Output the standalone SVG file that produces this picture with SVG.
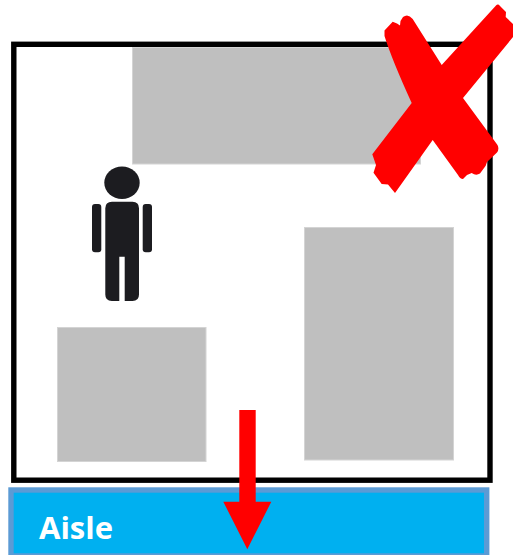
<svg xmlns="http://www.w3.org/2000/svg" width="513" height="555" viewBox="0 0 513 555">
  <style>
    .shelf { fill: #bfbfbf; stroke: #d4d4d4; stroke-width: 1; }
    .red { fill: #ff0000; }
    .person { fill: #1c1c20; }
  </style>
  <rect width="513" height="555" fill="#ffffff"/>
  <g id="room"><rect x="13.8" y="44.3" width="476.2" height="435.9" fill="#ffffff" stroke="#000000" stroke-width="5.4"/></g>
  <g id="shelf-top"><rect class="shelf" x="132.5" y="47.5" width="288" height="116.5"/></g>
  <g id="shelf-left"><rect class="shelf" x="57.5" y="327.5" width="148.5" height="134"/></g>
  <g id="shelf-right"><rect class="shelf" x="304.5" y="227.5" width="149" height="232.5"/></g>
  <g id="aisle">
    <rect x="11" y="490" width="475.7" height="66" fill="#00b0f0" stroke="#5b9bd5" stroke-width="5.4"/>
    <text x="39" y="538.5" font-family="'Open Sans', sans-serif" font-weight="700" font-size="31" fill="#ffffff">Aisle</text>
  </g>
  <g id="person">
    <ellipse class="person" cx="122" cy="182.8" rx="17.7" ry="16.2"/>
    <path class="person" d="M112 201.7H132.5Q139 201.7 139 208.2V294.5Q139 301 132.5 301H124.7V256.7H119.3V301H111.8Q105.3 301 105.3 294.5V208.2Q105.3 201.7 112 201.7Z"/>
    <rect class="person" x="92" y="204" width="9.3" height="48.3" rx="3"/>
    <rect class="person" x="142.7" y="204" width="9.3" height="48.3" rx="3"/>
  </g>
  <g id="cross">
    <path class="red" d="M384.5 30.5L392.7 21.7L397 23.5L400 25.5L400.5 21L403 17Q408 13 412.7 19L441.7 65L496 5.5Q498 3.5 500 6L506 12L505.7 17L513 24V37L463 98L497.5 145Q499.5 149 497 152.5L487 162L485.7 165.7L480 173.5Q476 176 471.7 173L467 175L463 179Q460 179 458 175L432.7 140L395 193L388 184.5L381.7 184L373.5 172.7L376 165L372.3 154.3L411.7 103Q392 60 384.5 36Z"/>
  </g>
  <g id="connectors">
    <path class="red" d="M239.3 410H255.7V501.7H271.3L247.3 549.3L223.3 501.7H239.3Z"/>
  </g>
</svg>
